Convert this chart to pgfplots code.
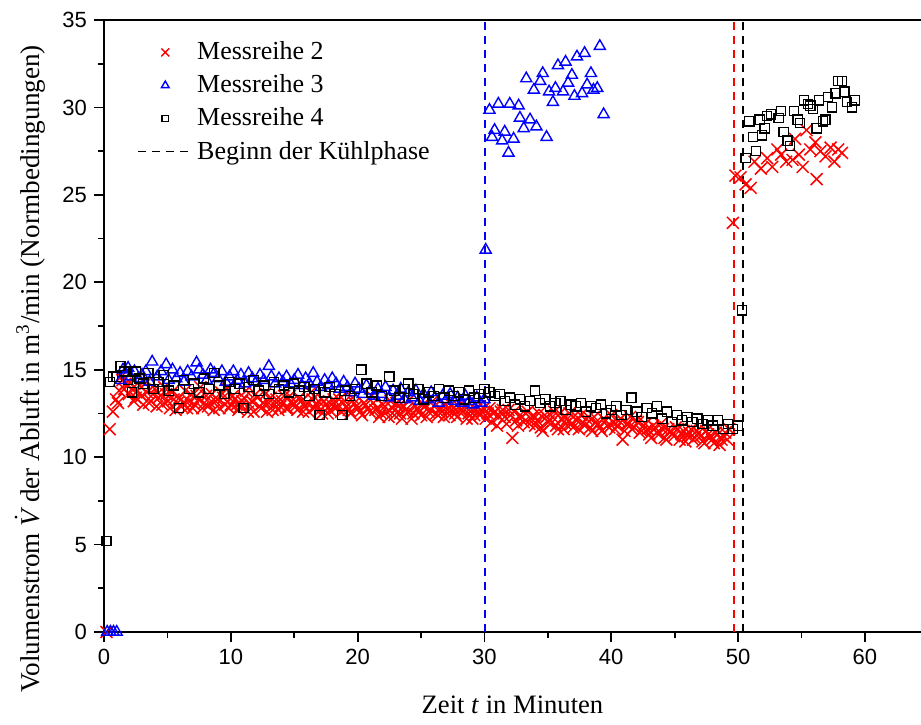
\documentclass[border=0pt]{standalone}
\usepackage{pgfplots}
\pgfplotsset{compat=1.18}
\usepackage{fontspec}
\setmainfont{Liberation Serif}
\newfontfamily\ticksans{Liberation Sans}

\pgfplotsset{
  markleg/.style={legend image code/.code={\draw[mark repeat=2,mark phase=2,##1,mark size=#1] plot coordinates {(0cm,0cm) (0.475cm,0cm) (0.95cm,0cm)};}},
  lineleg/.style={legend image code/.code={\draw[##1] (0cm,0cm) -- (0.95cm,0cm);}},
}

\pgfplotstableread{
x y
0.2 0.0
0.45 11.6
0.7 12.6
0.95 13.3
1.1 13.1
1.2 13.8
1.35 14.6
1.45 14.4
1.6 13.9
1.7 14.2
1.95 13.6
2.05 14.3
2.2 13.9
2.35 13.2
2.5 13.4
2.65 13.8
2.8 14.1
2.95 13.5
3.1 13.0
3.25 14.2
3.4 13.7
3.55 13.1
3.7 13.2
3.85 13.6
4.0 13.9
4.15 12.9
4.3 13.4
4.45 13.5
4.6 13.0
4.75 14.0
4.9 13.6
5.05 13.2
5.2 12.8
5.35 13.7
5.5 13.3
5.65 12.7
5.8 13.1
5.95 13.4
6.1 12.9
6.25 13.1
6.4 13.8
6.55 12.8
6.7 13.2
6.85 13.6
7.0 12.8
7.15 13.0
7.3 13.5
7.45 13.3
7.6 14.0
7.75 12.8
7.9 13.1
8.05 13.5
8.2 12.9
8.35 13.1
8.5 13.6
8.65 12.7
8.8 13.2
8.95 13.3
9.1 12.8
9.25 13.7
9.4 13.4
9.55 13.0
9.7 13.9
9.85 12.8
10.0 13.0
10.15 13.5
10.3 13.3
10.45 13.0
10.6 12.7
10.75 12.9
10.9 13.2
11.05 13.4
11.2 13.8
11.35 12.6
11.5 13.0
11.65 13.2
11.8 12.6
11.95 13.6
12.1 13.4
12.25 12.9
12.4 12.8
12.55 13.1
12.7 13.6
12.85 12.6
13.0 13.1
13.15 13.4
13.3 12.7
13.45 13.0
13.6 13.3
13.75 12.7
13.9 12.9
14.05 13.2
14.2 13.5
14.35 12.8
14.5 12.8
14.65 13.5
14.8 13.2
14.95 13.0
15.1 12.9
15.25 12.7
15.4 13.4
15.55 13.2
15.7 12.6
15.85 12.9
16.0 13.1
16.15 12.6
16.3 13.7
16.45 13.3
16.6 12.8
16.75 13.0
16.9 13.2
17.05 12.7
17.2 12.5
17.35 13.2
17.5 13.0
17.65 12.5
17.8 12.7
17.95 13.0
18.1 13.3
18.25 12.8
18.4 12.9
18.55 13.3
18.7 12.6
18.85 12.7
19.0 13.2
19.15 12.9
19.3 12.7
19.45 12.5
19.6 13.4
19.75 13.1
19.9 12.9
20.05 12.8
20.2 12.6
20.35 12.4
20.5 13.1
20.65 13.0
20.8 12.8
20.95 12.6
21.1 13.5
21.25 13.1
21.4 12.7
21.55 12.8
21.7 12.3
21.85 12.5
22.0 13.0
22.15 12.9
22.3 12.6
22.45 12.3
22.6 13.2
22.75 12.8
22.9 12.4
23.05 13.1
23.2 12.9
23.35 12.5
23.5 12.2
23.65 12.9
23.8 12.7
23.95 12.6
24.1 13.3
24.25 12.2
24.4 12.5
24.55 12.9
24.7 12.8
24.85 12.6
25.0 12.4
25.15 13.0
25.3 12.9
25.45 12.3
25.6 12.6
25.75 12.7
25.9 13.2
26.05 12.9
26.2 12.5
26.35 12.4
26.5 12.8
26.65 12.6
26.8 12.3
26.95 13.0
27.1 12.7
27.25 12.4
27.4 13.0
27.55 12.8
27.7 12.5
27.85 12.3
28.0 12.9
28.15 12.7
28.3 12.6
28.45 12.9
28.6 12.2
28.75 12.5
28.9 12.8
29.05 12.2
29.2 12.4
29.35 12.7
29.5 12.9
29.65 12.4
29.8 12.6
29.95 12.8
30.1 12.2
30.25 12.5
30.4 12.8
30.55 12.0
30.7 12.5
30.85 12.6
31.0 11.8
31.15 12.3
31.3 12.6
31.45 12.7
31.6 12.3
31.75 11.9
31.9 12.7
32.05 12.4
32.2 11.1
32.35 12.6
32.5 12.1
32.65 11.8
32.8 12.4
32.95 12.3
33.1 12.0
33.25 12.5
33.4 12.6
33.55 11.9
33.7 12.2
33.85 12.4
34.0 11.8
34.15 12.1
34.3 12.5
34.45 11.7
34.6 11.5
34.75 12.4
34.9 12.3
35.05 12.0
35.2 11.9
35.35 12.3
35.5 12.6
35.65 11.8
35.8 11.6
35.95 12.5
36.1 12.2
36.25 11.6
36.4 11.9
36.55 12.2
36.7 12.5
36.85 11.9
37.0 11.7
37.15 12.4
37.3 12.1
37.45 11.6
37.6 12.4
37.75 12.0
37.9 11.8
38.05 12.2
38.2 12.3
38.35 11.7
38.5 11.5
38.65 12.3
38.8 12.0
38.95 11.9
39.1 11.7
39.25 11.5
39.4 12.2
39.55 12.1
39.7 11.8
39.85 11.7
40.0 12.4
40.15 12.0
40.3 11.6
40.45 11.8
40.6 12.1
40.75 12.2
40.9 11.0
41.05 11.5
41.2 11.9
41.35 11.9
41.5 12.3
41.65 11.6
41.8 11.7
41.95 12.1
42.1 12.0
42.25 11.4
42.4 11.5
42.55 11.8
42.7 11.9
42.85 11.6
43.0 11.3
43.15 11.1
43.3 11.8
43.45 11.7
43.6 11.4
43.75 11.3
43.9 11.9
44.05 11.6
44.2 11.1
44.35 11.0
44.5 11.6
44.65 11.5
44.8 11.3
44.95 11.2
45.1 11.7
45.25 11.6
45.4 11.0
45.55 11.3
45.7 11.5
45.85 10.9
46.0 11.2
46.15 11.4
46.3 11.6
46.45 11.0
46.6 11.1
46.75 11.5
46.9 11.4
47.05 11.2
47.2 10.9
47.35 10.8
47.5 11.5
47.65 11.3
47.8 11.2
47.95 11.0
48.1 10.8
48.25 11.4
48.4 11.3
48.55 10.7
48.7 11.0
48.85 11.2
49.0 11.4
49.15 11.0
49.3 11.6
49.6 23.4
49.8 26.1
50.2 26.0
50.6 25.6
51.0 25.4
51.3 26.9
51.8 26.5
52.3 27.1
52.7 26.6
53.1 27.6
53.4 27.3
53.8 26.9
54.3 27.0
54.5 28.2
54.8 27.3
55.1 26.6
55.4 28.7
55.7 27.6
56.1 28.0
56.2 25.9
56.5 27.5
56.9 27.2
57.3 27.7
57.6 26.9
57.9 27.6
58.2 27.4
}\reihezwei

\pgfplotstableread{
x y
0.25 0.0
0.5 0.0
0.75 0.0
1.0 0.0
1.3 14.4
1.5 15.0
1.7 14.8
1.9 15.1
2.1 14.6
2.4 14.9
2.7 14.5
3.0 14.7
3.3 14.9
3.6 14.3
3.8 15.45
4.2 14.6
4.5 14.9
4.9 15.3
5.1 14.4
5.4 15.0
5.7 14.5
6.0 14.8
6.3 14.3
6.6 14.9
6.9 14.6
7.3 15.4
7.5 15.0
7.8 14.7
8.1 14.4
8.4 15.0
8.7 14.8
9.0 14.5
9.3 14.9
9.6 14.3
9.9 14.6
10.2 14.9
10.5 14.4
10.8 14.7
11.1 14.2
11.4 14.8
11.7 14.5
12.0 14.3
12.3 14.7
12.6 14.4
13.0 15.2
13.2 14.6
13.5 14.2
13.8 14.5
14.1 14.3
14.4 14.6
14.7 14.2
15.0 14.4
15.3 14.7
15.6 14.1
15.9 14.5
16.2 14.2
16.5 14.8
16.8 14.3
17.1 14.0
17.4 14.4
17.7 14.1
18.0 14.5
18.3 14.2
18.6 13.9
18.9 14.3
19.2 14.0
19.5 13.7
19.8 14.2
20.1 13.9
20.4 13.6
20.7 14.1
21.0 13.8
21.3 13.5
21.6 13.9
21.9 13.6
22.2 14.0
22.5 13.4
22.8 13.8
23.1 13.5
23.4 13.9
23.7 13.3
24.0 13.7
24.3 13.4
24.6 13.8
24.9 13.2
25.2 13.6
25.5 13.3
25.8 13.7
26.1 13.4
26.4 13.1
26.7 13.5
27.0 13.3
27.3 13.6
27.6 13.2
27.9 13.4
28.2 13.1
28.5 13.5
28.8 13.2
29.1 13.0
29.4 13.4
29.7 13.1
30.0 13.3
30.1 21.85
30.4 29.85
30.6 28.3
30.8 28.7
31.1 30.2
31.4 28.1
31.6 28.6
31.9 27.4
32.0 30.2
32.3 28.2
32.7 30.1
32.8 29.4
33.1 28.8
33.3 31.65
33.6 29.3
33.9 31.0
34.1 28.9
34.4 31.5
34.6 31.95
34.9 28.3
35.1 30.9
35.4 30.3
35.6 31.1
35.8 32.4
36.2 30.9
36.4 32.6
36.6 31.4
36.9 31.85
37.1 30.65
37.3 32.9
37.7 30.8
37.9 33.1
38.1 31.3
38.4 31.95
38.6 31.0
38.9 31.1
39.1 33.5
39.4 29.6
}\reihedrei

\pgfplotstableread{
x y
0.2 5.2
0.45 14.3
0.7 14.6
1.0 14.6
1.3 15.2
1.6 14.9
1.9 14.4
2.2 13.7
2.5 14.9
2.8 14.5
3.1 14.2
3.5 14.8
3.9 13.9
4.3 14.3
4.7 14.7
5.1 13.8
5.5 14.1
5.9 12.8
6.3 14.4
6.7 13.9
7.1 14.2
7.5 13.7
7.9 14.5
8.3 13.9
8.7 14.8
9.1 14.1
9.5 13.6
9.9 14.3
10.3 13.9
10.7 14.2
11.0 12.8
11.4 14.0
11.8 14.4
12.2 13.8
12.6 14.1
13.0 13.6
13.4 14.3
13.8 13.9
14.2 14.1
14.6 13.7
15.0 14.2
15.4 13.8
15.8 14.0
16.2 13.5
16.6 13.9
17.0 12.4
17.4 13.7
17.8 14.0
18.2 13.6
18.8 12.4
19.0 13.8
19.4 13.5
19.8 13.9
20.3 15.0
20.7 14.2
21.1 13.7
21.5 14.1
21.9 13.5
22.5 14.6
22.9 13.8
23.3 13.4
23.7 13.9
24.0 14.2
24.4 13.6
24.8 13.9
25.2 13.3
25.6 13.7
26.0 13.5
26.4 13.9
26.8 13.4
27.2 13.8
27.6 13.5
28.0 13.7
28.4 13.3
28.8 13.8
29.2 13.4
29.6 13.6
30.0 13.9
30.4 13.7
30.8 13.5
31.2 13.6
31.6 13.2
32.0 13.4
32.4 13.0
32.8 13.3
33.2 12.9
33.6 13.2
34.0 13.8
34.4 13.1
34.8 13.3
35.2 12.9
35.6 13.1
36.0 13.2
36.4 12.7
36.8 13.0
37.2 12.9
37.6 13.1
38.0 12.6
38.4 12.9
38.8 12.8
39.2 13.0
39.6 12.5
40.0 12.7
40.4 12.9
40.8 12.4
41.2 12.7
41.6 13.4
42.0 12.6
42.4 12.3
42.8 12.8
43.2 12.5
43.6 12.9
44.0 12.2
44.4 12.6
44.8 12.0
45.2 12.4
45.6 12.1
46.0 12.3
46.4 12.0
46.8 12.2
47.2 11.9
47.6 12.1
48.0 11.8
48.4 12.1
48.8 11.6
49.2 11.9
49.6 11.6
50.0 11.8
50.3 18.4
50.6 27.1
50.9 29.2
51.2 28.3
51.4 27.5
51.7 29.3
51.9 28.4
52.1 28.8
52.3 29.5
52.6 29.6
53.2 29.4
53.4 29.8
53.6 28.6
53.9 28.1
54.1 27.8
54.4 29.8
54.7 29.3
54.9 29.1
55.2 30.4
55.5 30.2
55.7 30.1
55.9 29.9
56.2 28.8
56.4 30.4
56.7 29.2
56.9 29.3
57.1 30.6
57.4 30.0
57.7 30.8
57.9 31.5
58.2 31.5
58.4 30.9
58.6 30.3
59.0 30.0
59.2 30.4
}\reihevier

\begin{document}
\begin{tikzpicture}
\begin{axis}[
  name=ax,
  scale only axis,
  width=408.5pt, height=306pt,
  xmin=0, xmax=64.43, ymin=0, ymax=35,
  axis x line*=bottom, axis y line*=left,
  axis line style={line width=1pt},
  xtick={0,10,...,60}, minor xtick={5,15,...,55},
  ytick={0,5,...,35}, minor ytick={2.5,7.5,...,32.5},
  tick align=outside,
  major tick length=5pt, minor tick length=3pt,
  tick style={line width=0.9pt, black},
  ticklabel style={font=\ticksans\fontsize{11}{11}\selectfont},
  /pgf/number format/assume math mode=true,
  xlabel={Zeit \textit{t} in Minuten},
  ylabel={Volumenstrom $\dot{\mbox{\itshape V}}$ der Abluft in m\textsuperscript{3}/min (Normbedingungen)},
  xlabel style={at={(axis description cs:0.5,-0.1193)}, anchor=center, font=\fontsize{13.3}{16}\selectfont},
  ylabel style={at={(axis description cs:-0.0906,0.43)}, anchor=center, font=\fontsize{13.6}{16}\selectfont},
  legend style={draw=none, fill=none, at={(axis description cs:0.033,0.978)}, anchor=north west,
    font=\fontsize{13}{15.6}\selectfont, row sep=2pt},
  legend cell align=left,
]
\addplot[only marks, mark=x, red, mark size=4.2pt, line width=0.75pt, markleg=2.8pt]
  table[x=x,y=y] {\reihezwei};
\addlegendentry{Messreihe 2}
\addplot[only marks, mark=triangle, blue, mark size=3.2pt, line width=0.7pt, markleg=2.2pt]
  table[x=x,y=y] {\reihedrei};
\addlegendentry{Messreihe 3}
\addplot[only marks, mark=square, black, mark size=2.3pt, line width=0.65pt, markleg=1.6pt]
  table[x=x,y=y] {\reihevier};
\addlegendentry{Messreihe 4}
\addplot[black, line width=0.9pt, dash pattern=on 4pt off 3pt, lineleg]
  coordinates {(50.4,0) (50.4,35)};
\addlegendentry{Beginn der K\"uhlphase}
\addplot[blue, line width=0.9pt, dash pattern=on 4pt off 3pt, forget plot]
  coordinates {(30.05,0) (30.05,35)};
\addplot[color=red, line width=1pt, dash pattern=on 4pt off 3pt, forget plot]
  coordinates {(49.7,0) (49.7,35)};
\end{axis}
\draw[line width=1pt] ([xshift=-0.5pt]ax.north west) -- (ax.north east);
\pgfresetboundingbox
\path ([xshift=-52pt,yshift=-46pt]ax.south west) rectangle ([yshift=10pt]ax.north east);
\end{tikzpicture}
\end{document}
